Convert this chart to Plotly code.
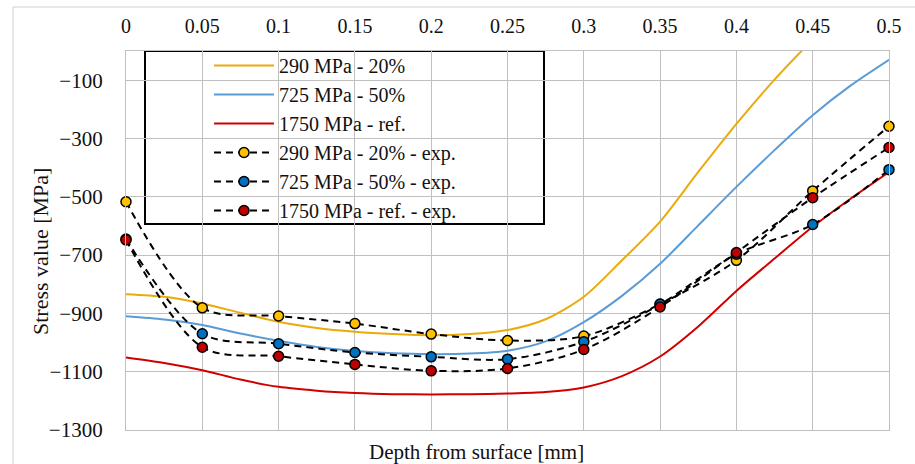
import plotly.graph_objects as go

# ---------------- data ----------------
x_sim = [0, 0.025, 0.05, 0.075, 0.1, 0.125, 0.15, 0.175, 0.2, 0.225, 0.25,
         0.275, 0.3, 0.325, 0.35, 0.375, 0.4, 0.425, 0.45, 0.475, 0.5]
sim_290 = [-834, -843, -866, -898, -929, -950, -963, -971, -975, -971, -957,
           -920, -843, -718, -585, -415, -250, -98, 40]
sim_725 = [-910, -921, -940, -969, -994, -1015, -1029, -1037, -1040, -1038, -1028,
           -996, -930, -840, -730, -598, -466, -340, -220, -118, -30]
sim_1750 = [-1051, -1070, -1095, -1127, -1152, -1165, -1173, -1177, -1178, -1177, -1175,
            -1170, -1154, -1115, -1048, -945, -823, -712, -603, -506, -415]

x_exp = [0, 0.05, 0.1, 0.15, 0.2, 0.25, 0.3, 0.35, 0.4, 0.45, 0.5]
exp_290 = [-517, -881, -909, -935, -971, -993, -978, -868, -718, -480, -258]
exp_725 = [-645, -970, -1004, -1034, -1049, -1057, -997, -869, -697, -595, -407]
exp_1750 = [-648, -1016, -1047, -1075, -1097, -1089, -1024, -878, -691, -503, -331]

names_sim = ["290 MPa - 20%", "725 MPa - 50%", "1750 MPa - ref."]
names_exp = ["290 MPa - 20% - exp.", "725 MPa - 50% - exp.", "1750 MPa - ref. - exp."]

x_ticks = [0, 0.05, 0.1, 0.15, 0.2, 0.25, 0.3, 0.35, 0.4, 0.45, 0.5]
x_ticklabels = ["0", "0.05", "0.1", "0.15", "0.2", "0.25", "0.3", "0.35", "0.4", "0.45", "0.5"]
y_ticks = [-1300, -1100, -900, -700, -500, -300, -100]
y_ticklabels = ["\u22121300", "\u22121100", "\u2212900", "\u2212700", "\u2212500", "\u2212300", "\u2212100"]

x_title = "Depth from surface [mm]"
y_title = "Stress value [MPa]"

# ---------------- style ----------------
FONT = "Liberation Serif"
TXT = "#111111"
GRID = "#c0c0c0"
line_cols = ["#EBAA0C", "#5B9BD5", "#D00000"]
mark_cols = ["#FFC000", "#0070C0", "#C00000"]

W, H = 915, 464
ML, MR, MT, MB = 126, 26, 51, 34
PW, PH = W - ML - MR, H - MT - MB


def px_x(p):
    return (p - ML) / PW


def px_y(p):
    return (H - MB - p) / PH


fig = go.Figure()

for xs, ys, nm, c in zip([x_sim] * 3, [sim_290, sim_725, sim_1750], names_sim, line_cols):
    fig.add_trace(go.Scatter(
        x=xs[:len(ys)], y=ys, name=nm, mode="lines",
        line=dict(color=c, width=2, shape="spline", smoothing=0.8),
    ))

for ys, nm, c in zip([exp_290, exp_725, exp_1750], names_exp, mark_cols):
    fig.add_trace(go.Scatter(
        x=x_exp, y=ys, name=nm, mode="lines+markers",
        line=dict(color="#000000", width=2, dash="7px,5px", shape="spline", smoothing=0.9),
        marker=dict(symbol="circle", size=10, color=c, line=dict(color="#000000", width=1.5)),
        cliponaxis=False,
    ))

fig.update_layout(
    width=W, height=H,
    margin=dict(l=ML, r=MR, t=MT, b=MB, pad=0, autoexpand=False),
    paper_bgcolor="white", plot_bgcolor="white",
    font=dict(family=FONT, color=TXT, size=21),
    showlegend=True,
    legend=dict(
        x=px_x(209), y=px_y(46), xanchor="left", yanchor="top",
        bgcolor="rgba(0,0,0,0)", borderwidth=0,
        font=dict(family=FONT, size=20, color=TXT),
        itemwidth=60, tracegroupgap=0,
    ),
    xaxis=dict(
        range=[0, 0.5], side="top", tickmode="array", automargin=False,
        tickvals=x_ticks, ticktext=x_ticklabels,
        showgrid=True, gridcolor=GRID, gridwidth=1.3,
        showline=True, linecolor=GRID, linewidth=1.3, mirror=True,
        zeroline=False, ticks="outside", ticklen=9, tickcolor="rgba(0,0,0,0)",
        tickfont=dict(family=FONT, size=20, color=TXT),
    ),
    yaxis=dict(
        range=[-1300, 0], tickmode="array", automargin=False,
        tickvals=y_ticks, ticktext=y_ticklabels,
        showgrid=True, gridcolor=GRID, gridwidth=1.3,
        showline=True, linecolor=GRID, linewidth=1.3, mirror=True,
        zeroline=False, ticks="outside", ticklen=18, tickcolor="rgba(0,0,0,0)",
        tickfont=dict(family=FONT, size=21, color=TXT),
    ),
    shapes=[
        # legend box
        dict(type="rect", xref="paper", yref="paper",
             x0=px_x(145), x1=px_x(544), y0=px_y(224), y1=px_y(51),
             line=dict(color="#000000", width=2), fillcolor="white", layer="between"),
        # outer chart border (top and left visible)
        dict(type="line", xref="paper", yref="paper",
             x0=px_x(13), x1=px_x(930), y0=px_y(7), y1=px_y(7),
             line=dict(color="#d0d0d0", width=1)),
        dict(type="line", xref="paper", yref="paper",
             x0=px_x(13), x1=px_x(13), y0=px_y(7), y1=px_y(480),
             line=dict(color="#d0d0d0", width=1)),
    ],
    annotations=[
        dict(text=x_title, xref="paper", yref="paper", x=px_x(476), y=px_y(452),
             xanchor="center", yanchor="middle", showarrow=False,
             font=dict(family=FONT, size=21, color=TXT)),
        dict(text=y_title, xref="paper", yref="paper", x=px_x(40), y=px_y(252),
             xanchor="center", yanchor="middle", showarrow=False, textangle=-90,
             font=dict(family=FONT, size=22, color=TXT)),
    ],
)

fig.write_html("out.html", config={"displayModeBar": False},
               post_script="document.body.style.margin='0';")
